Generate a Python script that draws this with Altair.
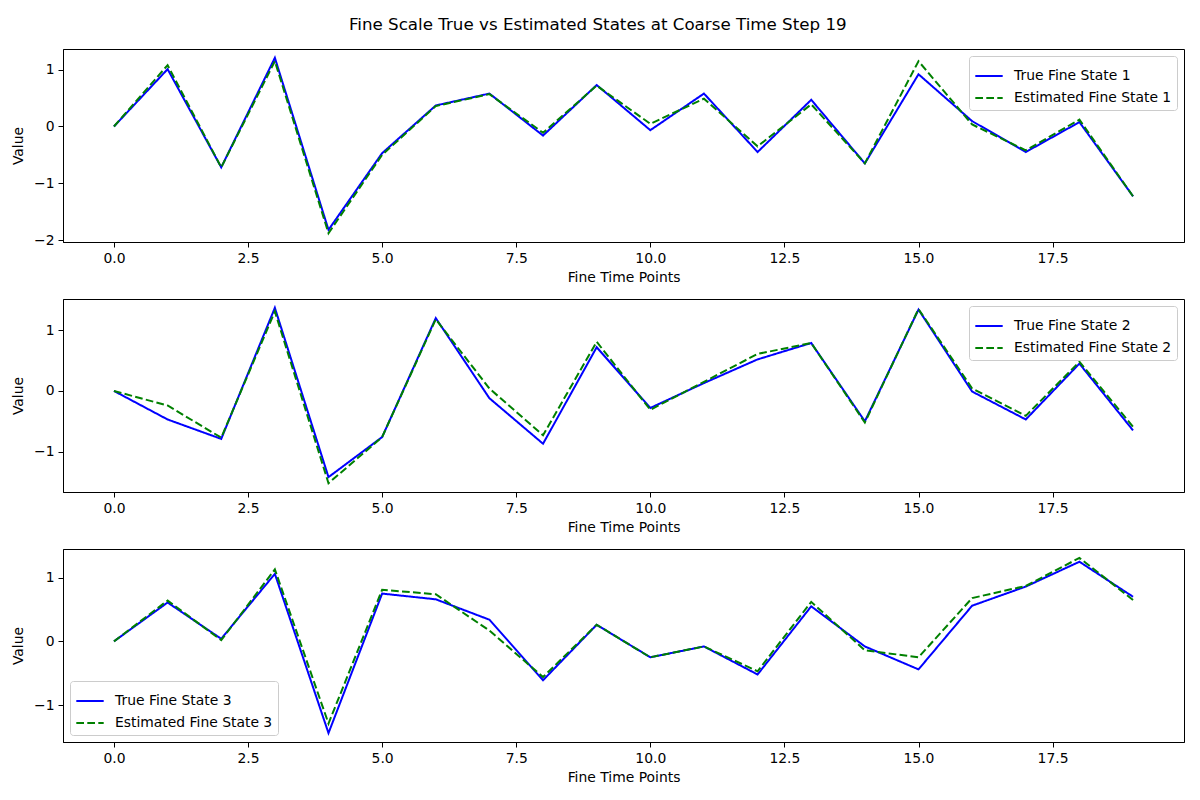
import altair as alt
import pandas as pd

t = list(range(20))

true1 = [0.0, 1.01, -0.72, 1.21, -1.82, -0.47, 0.37, 0.58, -0.16, 0.73,
         -0.065, 0.58, -0.45, 0.47, -0.65, 0.92, 0.094, -0.45, 0.077, -1.23]
est1 = [0.0, 1.08, -0.72, 1.15, -1.88, -0.50, 0.36, 0.57, -0.11, 0.72,
        0.047, 0.49, -0.35, 0.39, -0.65, 1.15, 0.035, -0.42, 0.12, -1.23]

true2 = [0.0, -0.47, -0.79, 1.37, -1.42, -0.76, 1.20, -0.12, -0.87, 0.72,
         -0.28, 0.13, 0.52, 0.79, -0.50, 1.34, -0.01, -0.47, 0.45, -0.65]
est2 = [0.0, -0.24, -0.77, 1.31, -1.52, -0.76, 1.18, 0.04, -0.73, 0.81,
        -0.31, 0.15, 0.61, 0.79, -0.52, 1.35, 0.04, -0.41, 0.48, -0.59]

true3 = [0.0, 0.61, 0.04, 1.06, -1.44, 0.75, 0.66, 0.34, -0.61, 0.26,
         -0.25, -0.08, -0.52, 0.55, -0.08, -0.44, 0.56, 0.86, 1.25, 0.70]
est3 = [0.0, 0.64, 0.02, 1.13, -1.29, 0.81, 0.74, 0.17, -0.56, 0.26,
        -0.25, -0.08, -0.47, 0.62, -0.14, -0.25, 0.68, 0.87, 1.31, 0.65]

x_ticks = [0, 2.5, 5, 7.5, 10, 12.5, 15, 17.5]
y_ticks = [[-2, -1, 0, 1], [-1, 0, 1], [-1, 0, 1]]
y_domains = [[-2.035, 1.365], [-1.665, 1.515], [-1.58, 1.45]]
legend_orients = ["top-right", "top-right", "bottom-left"]

FONT = "DejaVu Sans"
FS = 13.9


def panel(i, tr, es):
    lt = f"True Fine State {i}"
    le = f"Estimated Fine State {i}"
    df = pd.DataFrame({
        "t": t + t,
        "value": tr + es,
        "series": [lt] * len(t) + [le] * len(t),
        "ord": [0] * len(t) + [1] * len(t),
    })
    leg = alt.Legend(
        title=None,
        orient=legend_orients[i - 1],
        offset=7,
        symbolType="stroke",
        symbolSize=750,
        symbolStrokeWidth=2,
        labelFontSize=FS,
        labelFont=FONT,
        labelColor="black",
        labelOffset=10,
        padding=5,
        rowPadding=-5,
        fillColor="white",
        strokeColor="#cccccc",
        cornerRadius=3,
    )
    return alt.Chart(df).mark_line(strokeWidth=2).encode(
        x=alt.X("t:Q",
                scale=alt.Scale(domain=[-0.95, 19.95], nice=False, zero=False),
                axis=alt.Axis(values=x_ticks, format=".1f", title="Fine Time Points")),
        y=alt.Y("value:Q",
                scale=alt.Scale(domain=y_domains[i - 1], nice=False, zero=False),
                axis=alt.Axis(values=y_ticks[i - 1], format="d", title="Value")),
        color=alt.Color("series:N",
                        scale=alt.Scale(domain=[lt, le], range=["#0000ff", "#008000"]),
                        legend=leg),
        strokeDash=alt.StrokeDash("series:N",
                                  scale=alt.Scale(domain=[lt, le], range=[[1, 0], [7.7, 3.3]]),
                                  legend=leg),
        order=alt.Order("ord:Q"),
    ).properties(width=1121, height=193)


chart = alt.vconcat(
    panel(1, true1, est1),
    panel(2, true2, est2),
    panel(3, true3, est3),
    spacing=57,
    bounds="flush",
).resolve_scale(
    color="independent", strokeDash="independent", y="independent"
).properties(
    title=alt.TitleParams(
        "Fine Scale True vs Estimated States at Coarse Time Step 19",
        font=FONT, fontSize=16.7, fontWeight="normal", color="black",
        anchor="middle", frame="bounds", offset=15,
    ),
    padding={"left": 3, "top": 8, "right": 7, "bottom": 5},
).configure_view(
    stroke="black", strokeWidth=1
).configure_axis(
    grid=False,
    domainColor="black",
    tickColor="black",
    tickSize=5,
    labelPadding=4,
    labelFont=FONT,
    labelFontSize=FS,
    labelColor="black",
    titleFont=FONT,
    titleFontSize=FS,
    titleFontWeight="normal",
    titleColor="black",
).configure_axisY(
    titlePadding=8,
).configure_axisX(
    titlePadding=6,
)

chart.save("out.html", embed_options={"renderer": "svg", "actions": False})
